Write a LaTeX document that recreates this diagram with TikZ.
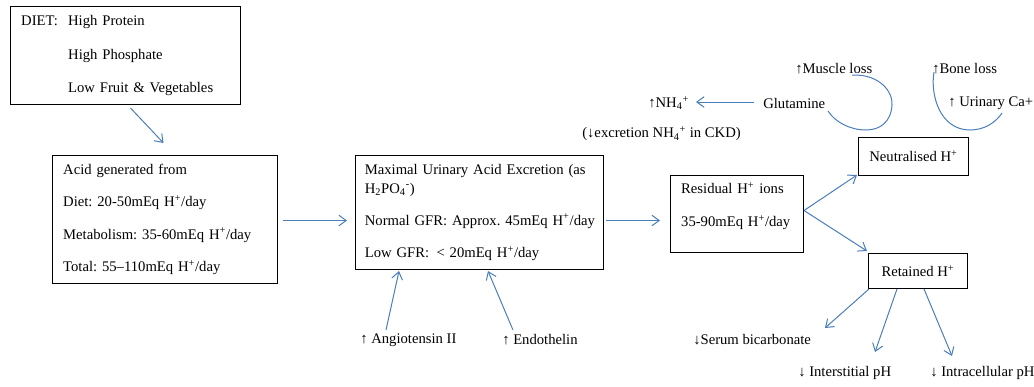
\documentclass[tikz,border=0pt]{standalone}
\usepackage{fontspec}
\setmainfont{Liberation Serif}
\usetikzlibrary{arrows.meta,positioning,calc}
\definecolor{arblue}{HTML}{4A7EBB}
\frenchspacing

\begin{document}
\begin{tikzpicture}[
  x=0.75pt, y=-0.75pt,
  box/.style={draw,line width=0.75pt,anchor=north west,inner xsep=8pt,
              inner ysep=0pt,align=left,font=\fontsize{11pt}{14pt}\selectfont},
  tag/.style={box,align=center,inner xsep=4pt},
  txt/.style={inner sep=0pt,anchor=west,font=\fontsize{11pt}{14pt}\selectfont},
  arr/.style={arblue,line width=0.75pt,-{Straight Barb[length=5.5pt,width=8pt]}},
  loopline/.style={arblue,line width=0.75pt}
]
\useasboundingbox (0,0) rectangle (1034,386);

% ---- Diet ---------------------------------------------------
\node[box,minimum width=172.5pt,minimum height=73.5pt,text width=156.5pt] (diet) at (10,6)
  {\makebox[35.25pt][l]{DIET:}High Protein\\[11pt]
   \hspace*{35.25pt}High Phosphate\\[11pt]
   \hspace*{35.25pt}Low Fruit \& Vegetables};

% ---- Acid generated -----------------------------------------
\node[box,minimum width=168.75pt,minimum height=96pt,text width=152.75pt] (acid) at (52,155)
  {Acid generated from\\[10.2pt]
   Diet: 20-50mEq H\textsuperscript{+}/day\\[10.2pt]
   Metabolism: 35-60mEq H\textsuperscript{+}/day\\[10.2pt]
   Total: 55--110mEq H\textsuperscript{+}/day};

% ---- Maximal urinary excretion ------------------------------
\node[box,inner xsep=7pt,minimum width=186pt,minimum height=85.5pt,text width=172pt] (maxu) at (355,155)
  {Maximal Urinary Acid Excretion (as\\
   H\textsubscript{2}PO\textsubscript{4}\textsuperscript{-})\\[10pt]
   \mbox{Normal GFR: Approx. 45mEq H\textsuperscript{+}/day}\\[10.5pt]
   Low GFR: \,< 20mEq H\textsuperscript{+}/day};

% ---- Residual -----------------------------------------------
\node[box,minimum width=99.75pt,minimum height=57.75pt,text width=83.75pt] (res) at (670,175)
  {Residual H\textsuperscript{+} ions\\[10.75pt]
   35-90mEq H\textsuperscript{+}/day\rule[-14.5pt]{0pt}{14.5pt}};

% ---- Neutralised / retained ---------------------------------
\node[tag,minimum width=82.5pt,minimum height=28.5pt] (neut) at (858,137) {Neutralised H\textsuperscript{+}};
\node[tag,minimum width=74.25pt,minimum height=26.25pt] (ret) at (868,253) {Retained H\textsuperscript{+}};

% ---- Free labels --------------------------------------------
\node[txt] (nh4)    at (648,103) {↑NH\textsubscript{4}\textsuperscript{+}};
\node[txt] (glut)   at (763,103) {Glutamine};
\node[txt] (ckd)    at (582,134) {(↓excretion NH\textsubscript{4}\textsuperscript{+} in CKD)};
\node[txt] (muscle) at (795,69)  {↑Muscle loss};
\node[txt] (bone)   at (932,69)  {↑Bone loss};
\node[txt] (urin)   at (948,103) {↑ Urinary Ca+};
\node[txt] (serum)  at (693,340) {↓Serum bicarbonate};
\node[txt] (inter)  at (798,373) {↓ Interstitial pH};
\node[txt] (intra)  at (930,373) {↓ Intracellular pH};
\node[txt] (angio)  at (360,340) {↑ Angiotensin II};
\node[txt] (endo)   at (502,340) {↑ Endothelin};

% ---- Main flow ----------------------------------------------
\draw[arr] ($(diet.south)+(5,3)$) -- ($(acid.north)+(-1.5,-12)$);
\draw[arr] ($(acid.east)+(5,1)$) -- ($(maxu.west)+(-8,8)$);
\draw[arr] ($(maxu.east)+(2,8)$) -- ($(res.west)+(-10,6.5)$);
\draw[arr] ($(res.east)+(0,-3.5)$) -- ($(neut.south west)+(-1,-1)$);
\draw[arr] ($(res.east)+(0,-3.5)$) -- ($(ret.north west)+(-1,-2)$);

% ---- Effects of retained acid -------------------------------
\draw[arr] ($(ret.south west)+(1,0)$) -- ($(serum.west)+(132,-12)$);
\draw[arr] ($(ret.south west)+(29,0)$) -- ($(inter.west)+(77,-21)$);
\draw[arr] ($(ret.south west)+(56,0)$) -- ($(intra.west)+(22,-17)$);

% ---- Modulators and ammoniagenesis --------------------------
\draw[arr] ($(angio.west)+(26,-10)$) -- ($(maxu.south west)+(44,1)$);
\draw[arr] ($(endo.west)+(11,-10)$) -- ($(maxu.south west)+(133,1)$);
\draw[arr] ($(glut.west)+(-9,-1)$) -- ($(nh4.west)+(48,-1)$);

% ---- Loops --------------------------------------------------
\coordinate (m0) at ($(muscle.west)+(57,6)$);
\coordinate (g0) at ($(glut.west)+(65,8)$);
\draw[loopline] (m0) .. controls (880,74) and (893,92) .. (892,105)
  .. controls (891,122) and (880,130) .. (866,130)
  .. controls (850,130) and (835,122) .. (g0);
\coordinate (b0) at ($(bone.west)+(2,3)$);
\coordinate (u0) at ($(urin.west)+(54,10)$);
\draw[loopline] (b0) .. controls (930,95) and (940,130) .. (970,130)
  .. controls (985,130) and (996,122) .. (u0);

\end{tikzpicture}
\end{document}
